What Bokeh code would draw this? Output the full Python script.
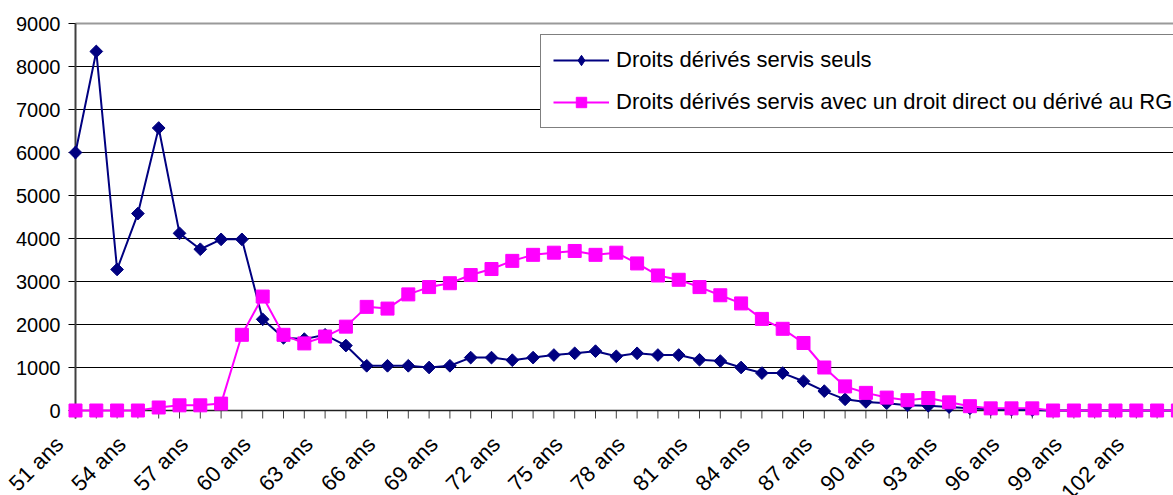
import math
from bokeh.plotting import figure
from bokeh.models import Range1d, Legend, LegendItem, LabelSet, ColumnDataSource
from bokeh.core.properties import value
from bokeh.embed import file_html
from bokeh.resources import INLINE

# ---- data ----
ages = ["51 ans", "52 ans", "53 ans", "54 ans", "55 ans", "56 ans", "57 ans", "58 ans",
        "59 ans", "60 ans", "61 ans", "62 ans", "63 ans", "64 ans", "65 ans", "66 ans",
        "67 ans", "68 ans", "69 ans", "70 ans", "71 ans", "72 ans", "73 ans", "74 ans",
        "75 ans", "76 ans", "77 ans", "78 ans", "79 ans", "80 ans", "81 ans", "82 ans",
        "83 ans", "84 ans", "85 ans", "86 ans", "87 ans", "88 ans", "89 ans", "90 ans",
        "91 ans", "92 ans", "93 ans", "94 ans", "95 ans", "96 ans", "97 ans", "98 ans",
        "99 ans", "100 ans", "101 ans", "102 ans", "103 ans", "104 ans"]
seuls = [6000, 8350, 3280, 4580, 6570, 4120, 3750, 3980, 3980, 2120,
         1690, 1660, 1760, 1510, 1040, 1040, 1040, 1000, 1040, 1230,
         1230, 1170, 1230, 1290, 1330, 1380, 1260, 1330, 1290, 1290,
         1180, 1150, 1000, 870, 870, 680, 450, 260, 200, 170,
         120, 110, 80, 50, 30, 20, 10, 0, 0, 0,
         0, 0, 0, 0]
avec = [0, 0, 0, 0, 70, 120, 120, 160, 1760, 2650,
        1760, 1560, 1720, 1950, 2410, 2370, 2700, 2870, 2960, 3150,
        3290, 3480, 3620, 3670, 3710, 3620, 3670, 3420, 3140, 3040,
        2870, 2680, 2490, 2130, 1900, 1570, 1000, 560, 410, 300,
        240, 290, 190, 100, 50, 50, 50, 0, 0, 0,
        0, 0, 0, 0]
label_seuls = "Droits dérivés servis seuls"
label_avec = "Droits dérivés servis avec un droit direct ou dérivé au RG"
y_ticks = [0, 1000, 2000, 3000, 4000, 5000, 6000, 7000, 8000, 9000]
y_tick_labels = ["0", "1000", "2000", "3000", "4000", "5000", "6000", "7000", "8000", "9000"]

idx = list(range(len(ages)))
FONT = "Liberation Sans"

# ---- layout constants (pixels) ----
W, H = 1173, 495
PX_X0, PX_STEP = 75, 20.8          # pixel of first category, pixels per category
PX_Y9000, PX_Y0 = 23, 410          # pixel rows of 9000 and 0
ux = 1.0 / PX_STEP                  # data units per pixel (x)
uy = 9000.0 / (PX_Y0 - PX_Y9000)    # data units per pixel (y)
x_start = -PX_X0 * ux
x_end = x_start + W * ux
y_end = 9000 + PX_Y9000 * uy
y_start = -(H - PX_Y0) * uy

p = figure(width=W, height=H, output_backend="svg", toolbar_location=None,
           x_range=Range1d(x_start, x_end), y_range=Range1d(y_start, y_end),
           x_axis_location=None, y_axis_location=None,
           min_border=0)
p.outline_line_color = None
p.background_fill_color = "white"
p.grid.grid_line_color = None

AXIS_C = "#404040"
n_y = len(y_ticks)
# horizontal grid lines + y tick marks
p.segment(x0=[-7 * ux] * n_y, y0=y_ticks, x1=[x_end + 1] * n_y, y1=y_ticks,
          line_color="black", line_width=1)
# plot-area top border (grey)
p.segment(x0=[0], y0=[y_ticks[-1]], x1=[x_end + 1], y1=[y_ticks[-1]],
          line_color="#9a9a9a", line_width=2)
# y axis line
p.segment(x0=[0], y0=[-8 * uy], x1=[0], y1=[y_ticks[-1]],
          line_color=AXIS_C, line_width=2)
# x axis tick marks at every category
p.segment(x0=idx, y0=[0] * len(idx), x1=idx, y1=[-8 * uy] * len(idx),
          line_color=AXIS_C, line_width=1)
# x axis line
p.segment(x0=[0], y0=[0], x1=[x_end + 1], y1=[0], line_color="#202020", line_width=1.5)

# y tick labels
ysrc = ColumnDataSource(data=dict(x=[0] * n_y, y=y_ticks, t=y_tick_labels))
p.add_layout(LabelSet(x="x", y="y", text="t", source=ysrc, x_offset=-15, y_offset=0,
                      text_align="right", text_baseline="middle",
                      text_font=value(FONT), text_font_size="20px", text_color="black"))

# x tick labels (every third category, rotated)
xsrc = ColumnDataSource(data=dict(x=idx[::3], y=[0] * len(idx[::3]), t=ages[::3]))
p.add_layout(LabelSet(x="x", y="y", text="t", source=xsrc, angle=math.pi / 4,
                      x_offset=-16, y_offset=-30, text_align="right", text_baseline="middle",
                      text_font=value(FONT), text_font_size="22px", text_color="black"))

# series
l1 = p.line(idx, seuls, line_color="#000080", line_width=2)
m1 = p.scatter(idx, seuls, marker="square", angle=math.pi / 4, size=9,
               fill_color="#000080", line_color="#000080")
# diamond glyph used for the legend entry (sits inside the first marker)
d1 = p.scatter(idx[:1], seuls[:1], marker="diamond", size=13,
               fill_color="#000080", line_color="#000080")
l2 = p.line(idx, avec, line_color="#FF00FF", line_width=2)
m2 = p.scatter(idx, avec, marker="square", size=13,
               fill_color="#FF00FF", line_color="#FF00FF")

legend = Legend(items=[LegendItem(label=label_seuls, renderers=[l1, d1]),
                       LegendItem(label=label_avec, renderers=[l2, m2])],
                location=(540, H - 128))
legend.label_text_font = FONT
legend.label_text_font_size = "22px"
legend.label_text_color = "black"
legend.glyph_width = 56
legend.glyph_height = 26
legend.label_height = 26
legend.spacing = 16
legend.padding = 12
legend.margin = 0
legend.label_standoff = 7
legend.border_line_color = "black"
legend.border_line_width = 1
legend.background_fill_alpha = 1
p.add_layout(legend)

open("out.html", "w").write(file_html(p, INLINE))
